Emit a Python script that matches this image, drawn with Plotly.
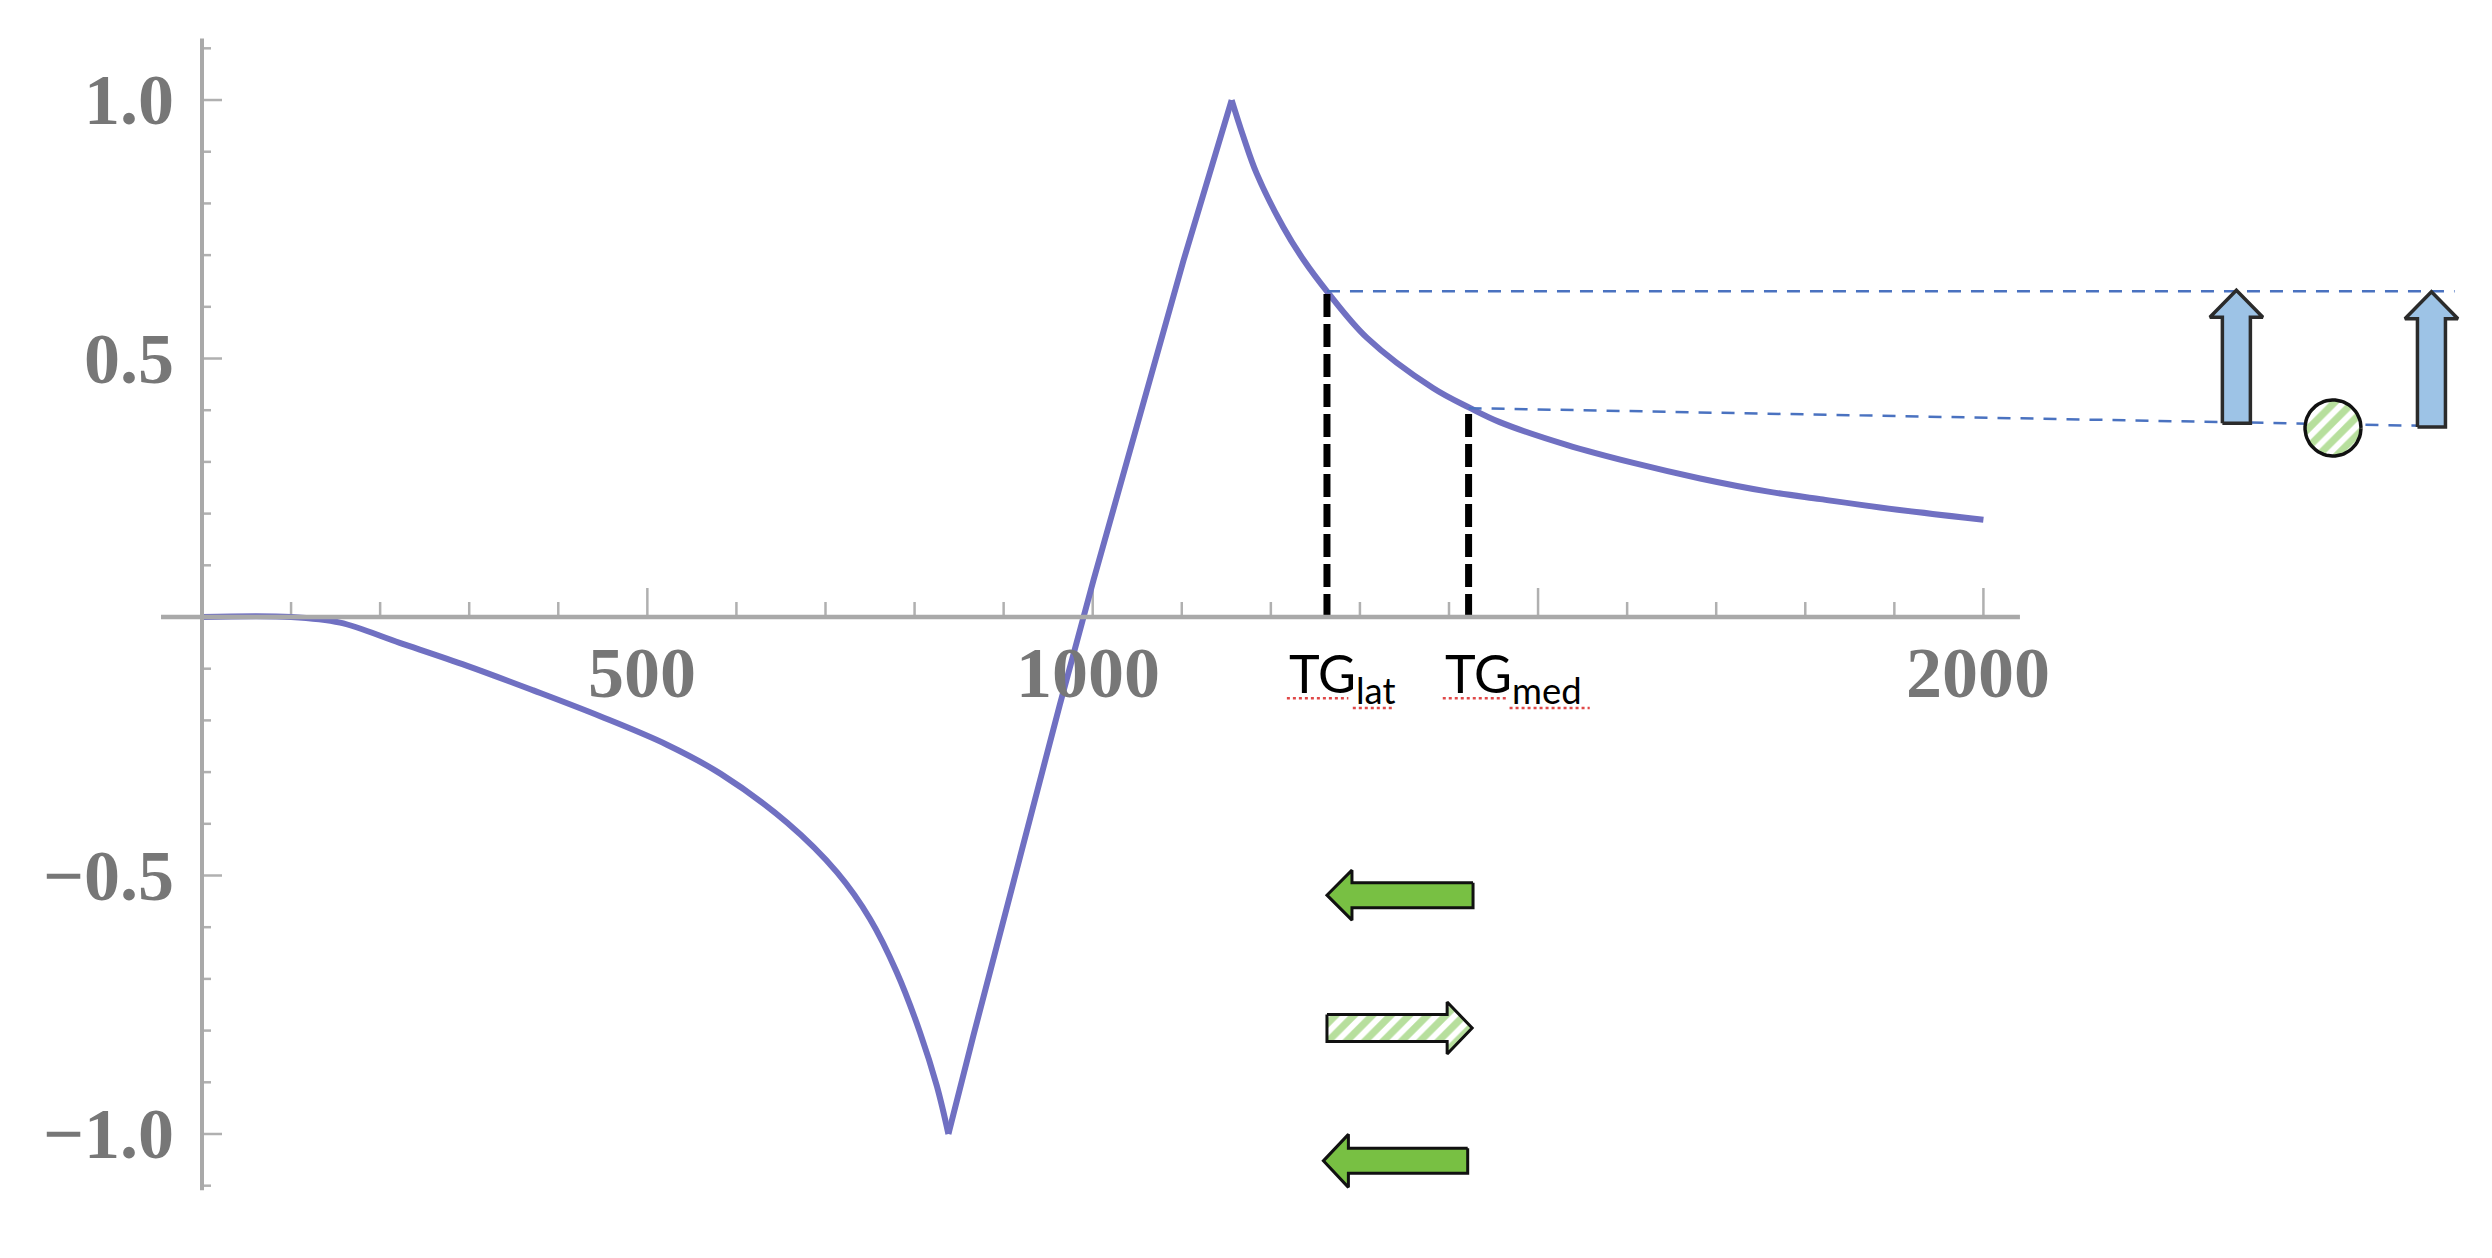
import numpy as np
import plotly.graph_objects as go

# ---- data ----
# left branch (flat start, slow fall, cusp at the minimum)
fall_x = [0, 100, 155, 222, 297, 372, 447, 522, 582, 657, 713, 750, 780, 806, 825, 838]
fall_y = [0.0, 0.0, -0.011, -0.05, -0.094, -0.142, -0.192, -0.247, -0.303, -0.398,
          -0.494, -0.584, -0.687, -0.803, -0.907, -1.0]
# steep rise from the minimum to the maximum
rise_x = [838, 866, 963, 1001, 1102, 1132, 1156]
rise_y = [-1.0, -0.81, -0.17, 0.072, 0.69, 0.864, 1.0]
# decay after the maximum
decay_x = [1156, 1169, 1184, 1214, 1237, 1263, 1308, 1382, 1424, 1457, 1532,
           1607, 1682, 1757, 1817, 1884, 2000]
decay_y = [1.0, 0.93, 0.858, 0.754, 0.69, 0.63, 0.54, 0.443, 0.404, 0.377, 0.333,
           0.298, 0.268, 0.243, 0.228, 0.212, 0.188]

tg_x = [1263, 1422]          # TG lat, TG med
tg_y = [0.63, 0.404]
tg_names = ["lat", "med"]

x_minor = [100, 200, 300, 400, 500, 600, 700, 800, 900, 1000, 1100, 1200, 1300, 1400,
           1500, 1600, 1700, 1800, 1900, 2000]
x_major = [500, 1000, 1500, 2000]
x_labels = {500: "500", 1000: "1000", 2000: "2000"}
y_minor = [-1.1, -1.0, -0.9, -0.8, -0.7, -0.6, -0.5, -0.4, -0.3, -0.2, -0.1,
           0.1, 0.2, 0.3, 0.4, 0.5, 0.6, 0.7, 0.8, 0.9, 1.0, 1.1]
y_major = [-1.0, -0.5, 0.5, 1.0]
y_labels = {1.0: "1.0", 0.5: "0.5", -0.5: "\u22120.5", -1.0: "\u22121.0"}

# ---- canvas (page body keeps an 8px margin, so the figure is a bit smaller) ----
W, H = 2476, 1242
X_RANGE = [-217.8, 2562.0]
Y_RANGE = [-1.2244, 1.178]
sx = (X_RANGE[1] - X_RANGE[0]) / W   # data units per pixel
sy = (Y_RANGE[1] - Y_RANGE[0]) / H

AXIS = "#a9a9a9"
CURVE = "#7070c2"
LABEL = "#777777"

fig = go.Figure()

# axes, Mathematica style, crossing at the origin
fig.add_shape(type="line", x0=-46, x1=2041, y0=0, y1=0, line=dict(color=AXIS, width=4.5))
fig.add_shape(type="line", x0=0, x1=0, y0=-1.109, y1=1.119, line=dict(color=AXIS, width=4))

tx, ty = [], []
for v in x_minor:
    ln = 29 if v in x_major else 15
    tx += [v, v, None]
    ty += [0, ln * sy, None]
for v in y_minor:
    ln = 20 if v in y_major else 9
    tx += [0, ln * sx, None]
    ty += [v, v, None]
fig.add_trace(go.Scatter(x=tx, y=ty, mode="lines", line=dict(color="#b0b0b0", width=2.5),
                         hoverinfo="skip", showlegend=False))

for v, t in x_labels.items():
    fig.add_annotation(x=v, y=0, text=t, showarrow=False, xanchor="center", yanchor="middle",
                       xshift=-5, yshift=-56,
                       font=dict(family="Liberation Serif", size=72, color=LABEL, weight="bold"))
for v, t in y_labels.items():
    fig.add_annotation(x=0, y=v, text=t, showarrow=False, xanchor="right", yanchor="middle",
                       xshift=-26,
                       font=dict(family="Liberation Serif", size=72, color=LABEL, weight="bold"))

# the curve
for xs, ys, shp in [(fall_x, fall_y, "spline"), (rise_x, rise_y, "linear"),
                    (decay_x, decay_y, "spline")]:
    fig.add_trace(go.Scatter(x=xs, y=ys, mode="lines",
                             line=dict(color=CURVE, width=6, shape=shp, smoothing=1.0),
                             hoverinfo="skip", showlegend=False))

# horizontal blue guides out to the right
fig.add_trace(go.Scatter(x=[tg_x[0], 2529], y=[tg_y[0], tg_y[0]], mode="lines",
                         line=dict(color="#4a72c0", width=2.5, dash="13px,10px"),
                         hoverinfo="skip", showlegend=False))
fig.add_trace(go.Scatter(x=[tg_x[1], 2520], y=[tg_y[1], 0.369], mode="lines",
                         line=dict(color="#4a72c0", width=2.5, dash="13px,10px"),
                         hoverinfo="skip", showlegend=False))

# black dashed drop lines at TG positions
for xv, yv in zip(tg_x, tg_y):
    fig.add_trace(go.Scatter(x=[xv, xv], y=[0, yv], mode="lines",
                             line=dict(color="black", width=7, dash="23px,7px"),
                             hoverinfo="skip", showlegend=False))

# TG labels
for xv, name, lx in zip(tg_x, tg_names, [1218, 1393]):
    fig.add_annotation(x=lx, y=(617 - 640) / 517, text=f"TG<sub>{name}</sub>", showarrow=False,
                       xanchor="left", yanchor="top",
                       font=dict(family="Lato", size=52, color="black"))
# spell-check squiggles under the labels
for x0, x1, yv in [(1218, 1287, -0.157), (1292, 1337, -0.176),
                   (1393, 1465, -0.157), (1468, 1558, -0.176)]:
    fig.add_shape(type="line", x0=x0, x1=x1, y0=yv, y1=yv,
                  line=dict(color="#e04848", width=2.5, dash="dot"))


def h_arrow(x_tail, x_tip, yc, shaft, head, head_len):
    d = 1 if x_tip > x_tail else -1
    xb = x_tip - d * head_len * sx
    hs, hh = shaft * sy, head * sy
    xs = [x_tail, xb, xb, x_tip, xb, xb, x_tail, x_tail]
    ys = [yc + hs, yc + hs, yc + hh, yc, yc - hh, yc - hs, yc - hs, yc + hs]
    return xs, ys


def v_arrow(xc, y_tail, y_tip, shaft, head, head_len):
    yb = y_tip - head_len * sy
    ws, wh = shaft * sx, head * sx
    xs = [xc - ws, xc - ws, xc - wh, xc, xc + wh, xc + ws, xc + ws, xc - ws]
    ys = [y_tail, yb, yb, y_tip, yb, yb, y_tail, y_tail]
    return xs, ys


GREEN = "#78c043"
HATCH = dict(shape="/", fgcolor="#6fbf3b", bgcolor="white", size=13, solidity=0.55)

# green arrows below the axis
xs, ys = h_arrow(1427, 1263, -0.538, 12.5, 25, 25)
fig.add_trace(go.Scatter(x=xs, y=ys, fill="toself", fillcolor=GREEN, mode="lines",
                         line=dict(color="#111111", width=3), hoverinfo="skip", showlegend=False))
xs, ys = h_arrow(1263, 1426, -0.795, 13.5, 26, 25)
fig.add_trace(go.Scatter(x=xs, y=ys, fill="toself", fillpattern=HATCH, fillcolor="white",
                         mode="lines", line=dict(color="#111111", width=3),
                         hoverinfo="skip", showlegend=False))
xs, ys = h_arrow(1421, 1259, -1.052, 12.5, 26.5, 25)
fig.add_trace(go.Scatter(x=xs, y=ys, fill="toself", fillcolor=GREEN, mode="lines",
                         line=dict(color="#111111", width=3), hoverinfo="skip", showlegend=False))

# blue up arrows on the right
for xc, y0, y1 in [(2284, 0.375, 0.632), (2503, 0.3675, 0.629)]:
    xs, ys = v_arrow(xc, y0, y1, 14, 26.5, 27)
    fig.add_trace(go.Scatter(x=xs, y=ys, fill="toself", fillcolor="#9dc3e6", mode="lines",
                             line=dict(color="#2b2b2b", width=3.5),
                             hoverinfo="skip", showlegend=False))

# hatched circle between them
t = np.linspace(0, 2 * np.pi, 60)
fig.add_trace(go.Scatter(x=2392.5 + 28 * sx * np.cos(t), y=0.3656 + 28 * sy * np.sin(t),
                         fill="toself", fillpattern=HATCH, fillcolor="white", mode="lines",
                         line=dict(color="#111111", width=3.5), hoverinfo="skip", showlegend=False))

fig.update_layout(
    width=W, height=H,
    margin=dict(l=0, r=0, t=0, b=0),
    paper_bgcolor="white", plot_bgcolor="white",
    xaxis=dict(range=X_RANGE, visible=False, fixedrange=True),
    yaxis=dict(range=Y_RANGE, visible=False, fixedrange=True),
    showlegend=False,
)

fig.write_html("out.html")
